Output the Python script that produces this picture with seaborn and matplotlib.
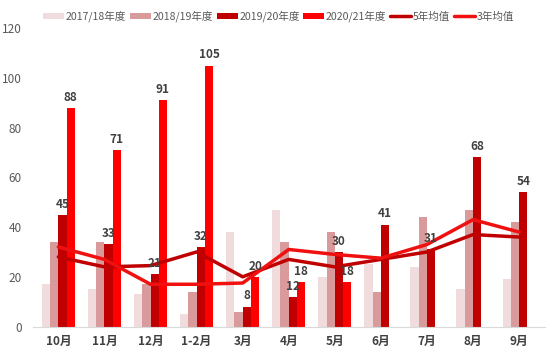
import numpy as np
import pandas as pd
import matplotlib
matplotlib.use('Agg')
import matplotlib.pyplot as plt
import seaborn as sns

sns.set_style('white')
plt.rcParams['font.family'] = ['Noto Sans CJK SC', 'DejaVu Sans']
plt.rcParams['axes.unicode_minus'] = False

months = ['10月', '11月', '12月', '1-2月', '3月', '4月', '5月', '6月', '7月', '8月', '9月']
s1718 = [17, 15, 13, 5, 38, 47, 20, 25, 24, 15, 19]
s1819 = [34, 34, 17, 14, 6, 34, 38, 14, 44, 47, 42]
s1920 = [45, 33, 21, 32, 8, 12, 30, 41, 31, 68, 54]
s2021 = [88, 71, 91, 105, 20, 18, 18, np.nan, np.nan, np.nan, np.nan]
avg5 = [28, 24, 24.5, 30, 20, 27, 24, 27, 30, 37, 36]
avg3 = [32, 27, 17, 17, 17.5, 31, 29, 27.5, 33, 43, 38]

seasons = ['2017/18年度', '2018/19年度', '2019/20年度', '2020/21年度']
bar_colors = ['#F0DCDC', '#D89A9A', '#C00000', '#FF0000']

df = pd.DataFrame({'月份': months * 4,
                   '年度': np.repeat(seasons, len(months)),
                   '值': s1718 + s1819 + s1920 + s2021})

fig, ax = plt.subplots(figsize=(5.5, 3.53), dpi=100)
sns.barplot(data=df, x='月份', y='值', hue='年度', order=months, hue_order=seasons,
            palette=bar_colors, width=0.72, saturation=1, errorbar=None,
            linewidth=0, edgecolor='none', ax=ax)

sns.lineplot(x=months, y=avg5, color='#C00000', lw=2.5, sort=False, label='5年均值', ax=ax)
sns.lineplot(x=months, y=avg3, color='#F01010', lw=2.5, sort=False, label='3年均值', ax=ax)

# data labels on the two most recent seasons
for cont, vals in zip(ax.containers[2:4], [s1920, s2021]):
    labs = [str(int(v)) for v in vals if not np.isnan(v)]
    ax.bar_label(cont, labels=labs, padding=3, fontsize=8.5, fontweight='bold', color='#404040')

ax.set_ylim(0, 120)
ax.set_yticks(range(0, 121, 20))
ax.set_xlim(-0.55, len(months) - 0.45)
ax.set_xlabel('')
ax.set_ylabel('')
for s in ['top', 'right', 'left']:
    ax.spines[s].set_visible(False)
ax.spines['bottom'].set_color('#D9D9D9')
ax.tick_params(axis='y', labelsize=8.5, labelcolor='#595959', length=0, pad=8)
ax.tick_params(axis='x', labelsize=8.5, length=0, pad=6)
for t in ax.get_xticklabels():
    t.set_fontweight('bold')
    t.set_color('#404040')

h, l = ax.get_legend_handles_labels()
ax.legend(h, l, loc='center', bbox_to_anchor=(0.48, 1.04), ncol=6, frameon=False,
          fontsize=7.6, handlelength=2.0, handleheight=0.6, columnspacing=0.35,
          handletextpad=0.15, labelcolor='#595959', borderaxespad=0, borderpad=0)

plt.subplots_adjust(left=0.06, right=0.99, top=0.92, bottom=0.075)
plt.savefig('out.png', dpi=100)
